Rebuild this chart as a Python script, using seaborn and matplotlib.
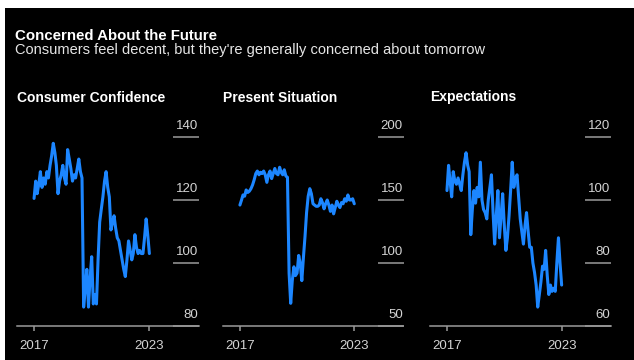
import matplotlib
matplotlib.use("Agg")
import matplotlib.pyplot as plt
from matplotlib.patches import Rectangle
import numpy as np
import pandas as pd
import seaborn as sns

# Monthly index readings, Jan 2017 - Jan 2023
months = pd.date_range("2017-01-01", periods=73, freq="MS")

consumer_confidence = [
    120.5, 126, 122, 125, 129, 124, 127, 125, 129, 127, 131, 134,
    138, 135, 131, 122, 126, 128, 131, 127, 125, 136, 133, 130,
    126, 128, 127, 130, 133, 129, 127, 86, 92, 98, 86, 95,
    102, 87, 90, 87, 101, 113, 117, 121, 126, 129, 124, 121,
    110.5, 113, 115, 111, 108, 107, 104, 101, 98, 95.7, 101, 107,
    104, 101, 103, 109, 105, 103, 104, 103, 103, 108, 114, 109,
    103,
]

present_situation = [
    146, 150, 154, 153, 158, 156, 157, 159, 162, 166, 171, 173,
    170, 172, 171, 173, 170, 164, 170, 173, 167, 171, 175, 171,
    170, 176, 172, 170, 174, 169, 168, 92, 68, 86, 97, 90,
    92, 106, 100, 86, 104, 121, 140, 153, 159, 155, 147, 146,
    145, 145, 146, 151, 148, 143, 147, 150, 146, 141, 146, 139,
    144, 149, 146, 144, 148, 147, 151, 149, 154, 150, 150, 151,
    147,
]

expectations = [
    103, 111, 106, 101, 109, 106, 105, 107, 105, 103, 108, 112,
    115, 111, 109, 89, 97, 103, 99, 104, 101, 112, 100, 97,
    96, 94, 100, 104, 108, 96, 86, 95, 103, 88, 95, 102,
    92, 84, 88, 95, 103, 112, 104, 107, 108, 101, 94, 90,
    86, 92, 96, 90, 85, 85, 80, 77, 73, 66, 70, 74,
    79, 78, 84, 76, 70, 73, 71, 72, 71, 80, 88, 80,
    73,
]

panel_titles = ["Consumer Confidence", "Present Situation", "Expectations"]
panel_series = [consumer_confidence, present_situation, expectations]
panel_yticks = [[80, 100, 120, 140], [50, 100, 150, 200], [60, 80, 100, 120]]
x_tick_years = [2017, 2023]

title = "Concerned About the Future"
subtitle = "Consumers feel decent, but they're generally concerned about tomorrow"

BLUE = "#1c86ff"
GREY = "#9a9a9a"
LABEL = "#d4d4d4"

sns.set_theme(style="dark")
plt.rcParams["font.family"] = ["Liberation Sans", "DejaVu Sans"]

W, H = 634, 360
fig = plt.figure(figsize=(W / 100, H / 100), dpi=100, facecolor="white")
fig.add_artist(Rectangle((5 / W, 0), (W - 5) / W, (H - 8) / H,
                         transform=fig.transFigure, facecolor="black",
                         edgecolor="none", zorder=-10))

fig.text(15 / W, 1 - 39.5 / H, title, fontsize=10.8, fontweight="bold",
         color="white", va="baseline")
fig.text(15 / W, 1 - 54 / H, subtitle, fontsize=10.5, color="#e6e6e6",
         va="baseline")

# panel boxes in pixels: left, width
boxes = [(17, 182), (223, 180.5), (430, 181)]
bottom_px, height_px = 34, 189

for (left, width), name, values, yticks in zip(boxes, panel_titles,
                                                panel_series, panel_yticks):
    ax = fig.add_axes([left / W, bottom_px / H, width / W, height_px / H])
    ax.set_facecolor("none")
    df = pd.DataFrame({"month": months, "value": values})
    sns.lineplot(data=df, x="month", y="value", ax=ax, color=BLUE,
                 linewidth=2.2, clip_on=False)

    ax.set_xlim(pd.Timestamp("2016-02-12"), pd.Timestamp("2025-08-01"))
    ax.set_ylim(yticks[0], yticks[-1])
    ax.set_xlabel("")
    ax.set_ylabel("")
    ax.grid(False)

    ax.set_yticks(yticks)
    ax.yaxis.tick_right()
    ax.tick_params(axis="y", direction="in", length=18.7, width=1.1,
                   color=GREY, right=True, left=False, labelright=False,
                   labelleft=False)
    for t in yticks:
        ax.annotate(str(t), xy=(1, t), xycoords=ax.get_yaxis_transform(),
                    xytext=(-0.5, 5.8), textcoords="offset points",
                    ha="right", va="baseline", color=LABEL, fontsize=9.5)

    ax.set_xticks([pd.Timestamp(f"{y}-01-01") for y in x_tick_years])
    ax.set_xticklabels([str(y) for y in x_tick_years])
    ax.tick_params(axis="x", direction="out", length=3.6, width=1.1,
                   color=GREY, labelcolor=LABEL, labelsize=9.5, pad=6.5,
                   bottom=True)

    for side in ("top", "left", "right"):
        ax.spines[side].set_visible(False)
    ax.spines["bottom"].set_color(GREY)
    ax.spines["bottom"].set_linewidth(1.1)

    fig.text(left / W, 1 - 101.5 / H, name, fontsize=10, fontweight="bold",
             color="white", va="baseline")

fig.savefig("out.png", dpi=100, facecolor=fig.get_facecolor())
